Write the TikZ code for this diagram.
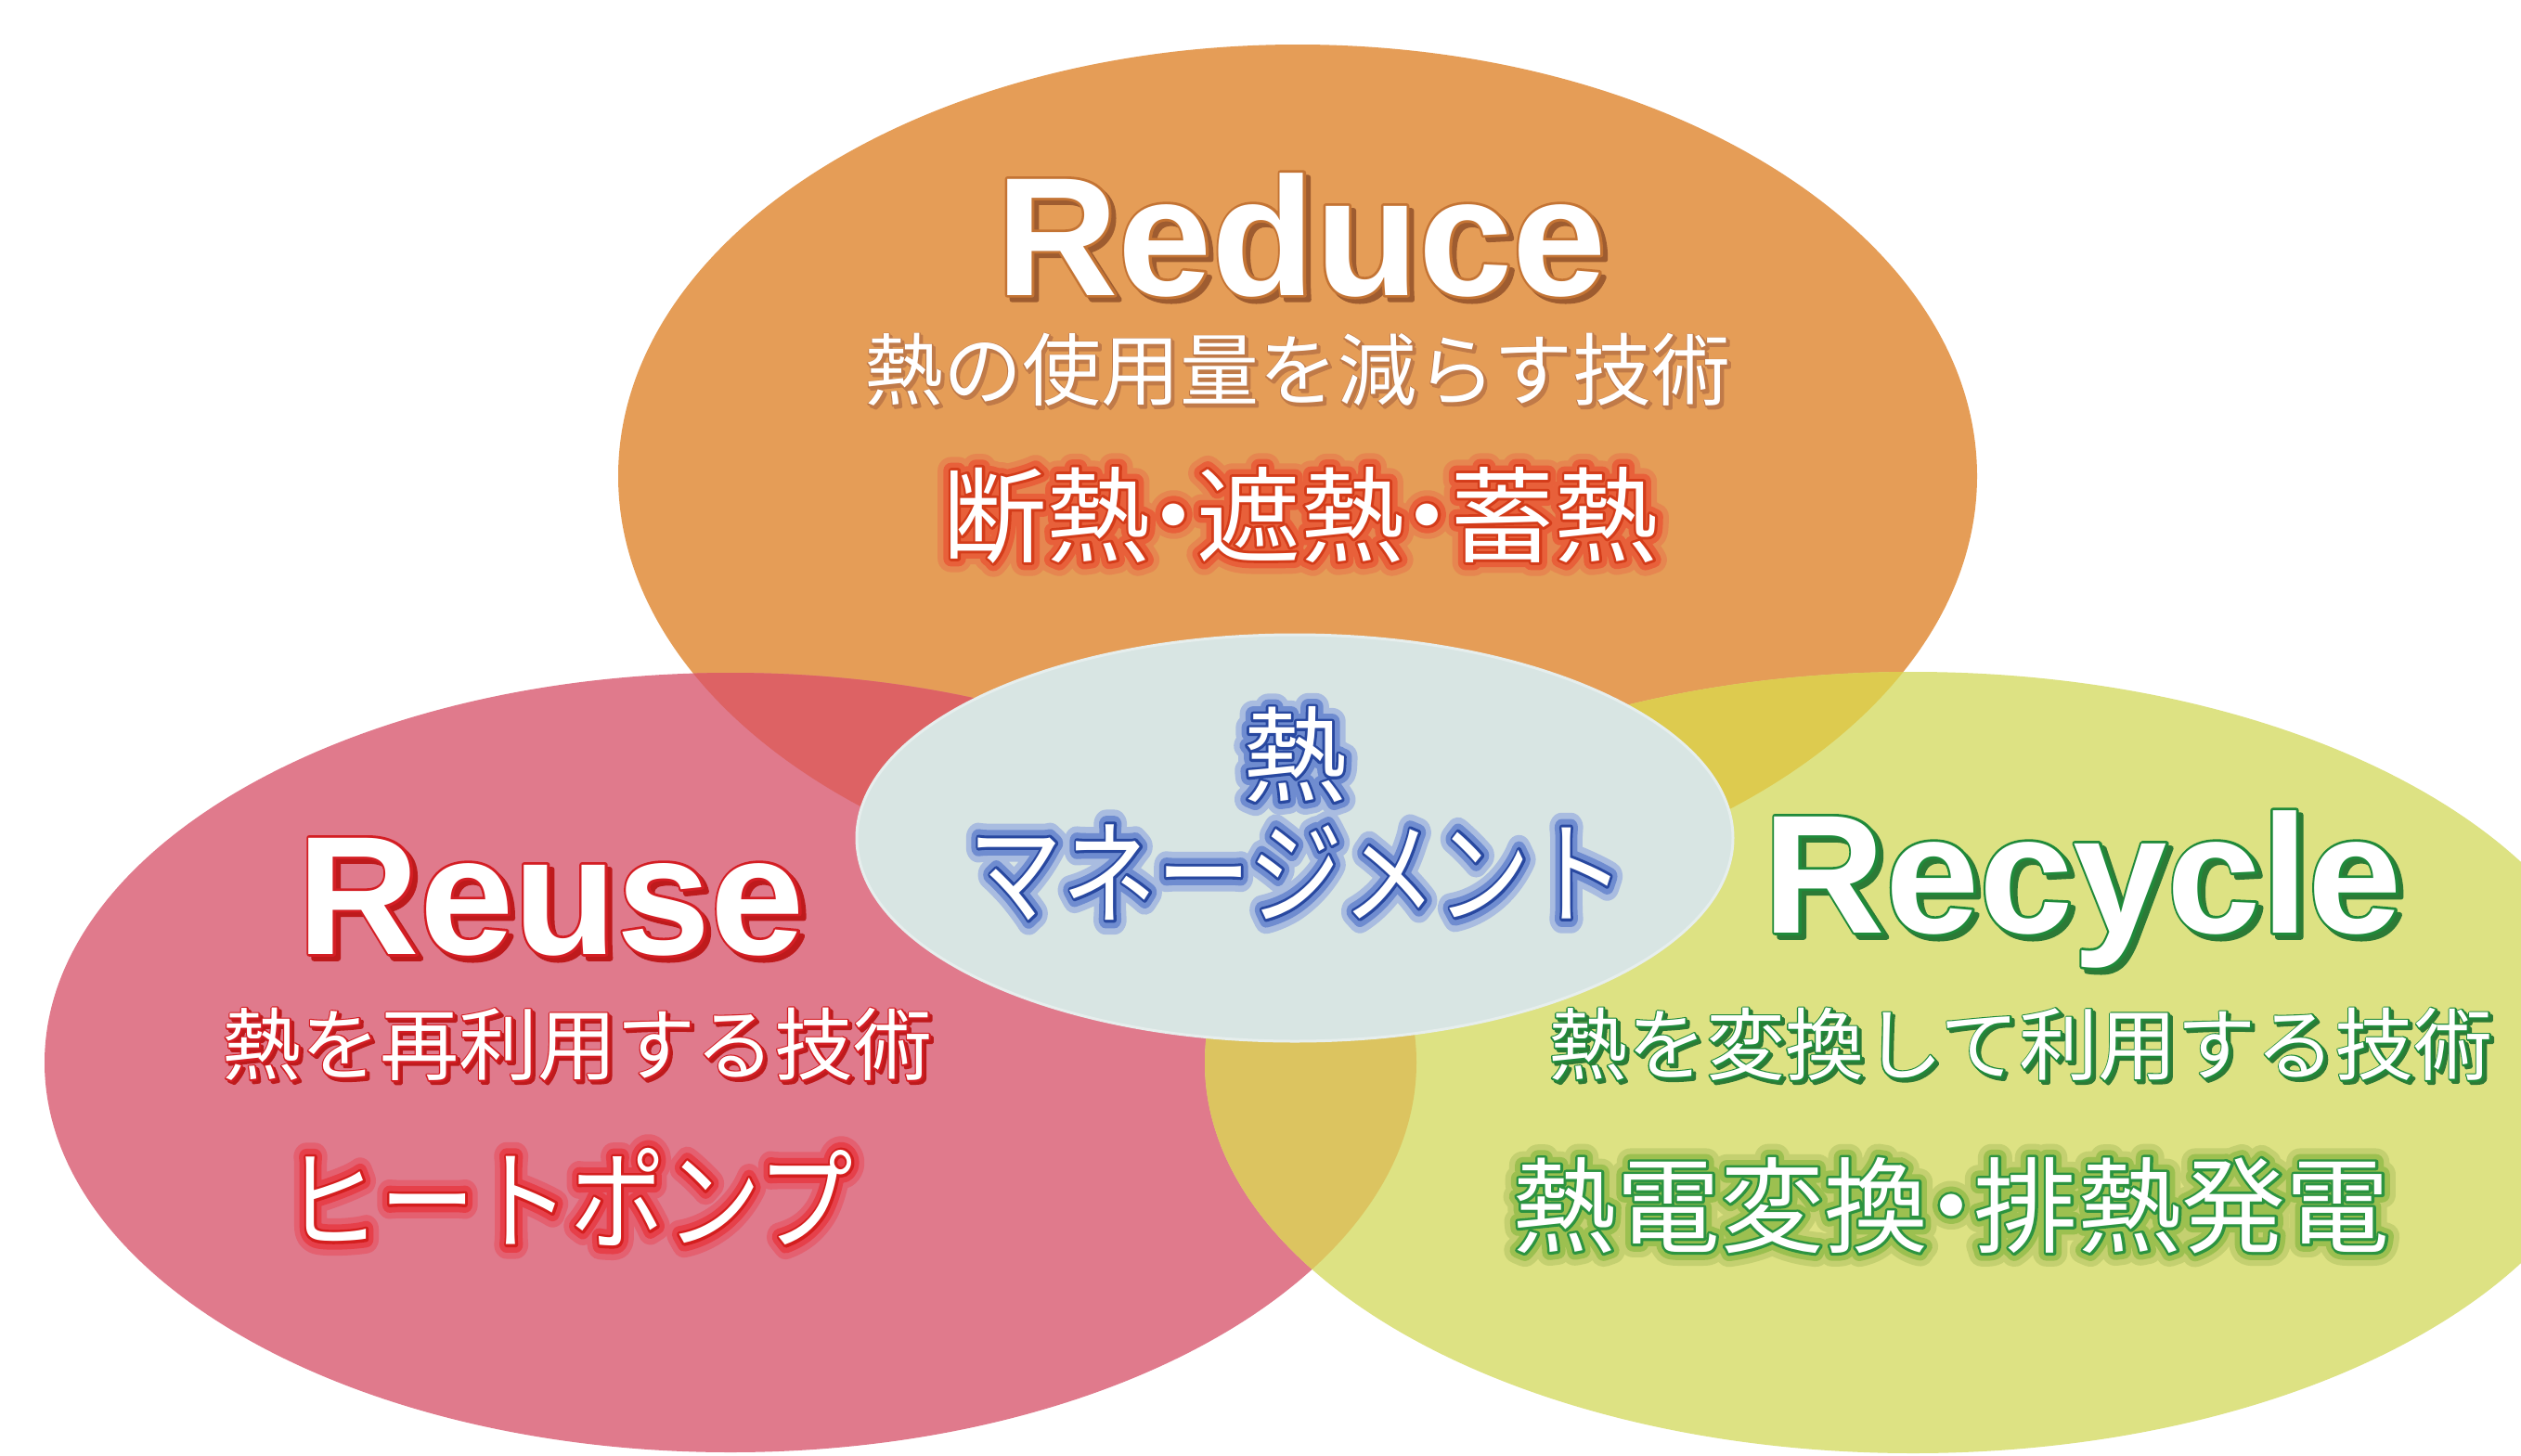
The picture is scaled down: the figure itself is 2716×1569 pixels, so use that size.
\documentclass[tikz,border=0pt]{standalone}
\usepackage{fontspec}
\setmainfont{Liberation Sans}
\newfontfamily\jpfont{Noto Sans CJK JP}
\definecolor{cOrange}{HTML}{E59D57}
\definecolor{cPink}{HTML}{E07A8C}
\definecolor{cYellow}{HTML}{DDE283}
\definecolor{cRedOv}{HTML}{DD6264}
\definecolor{cGoldOv}{HTML}{DDCB4F}
\definecolor{cPYOv}{HTML}{DCC460}
\definecolor{cCenter}{HTML}{D8E5E3}
% text effect colours
\definecolor{rdOl}{HTML}{C47434}
\definecolor{rdSh}{HTML}{9E5C30}
\definecolor{rdSubOl}{HTML}{C07A48}
\definecolor{rdGlowS}{HTML}{E68650}
\definecolor{rdGlowA}{HTML}{E8603A}
\definecolor{rdGlowB}{HTML}{D43C1A}
\definecolor{ctGlowS}{HTML}{A9BCE0}
\definecolor{ctGlowA}{HTML}{6F8CD0}
\definecolor{ctGlowB}{HTML}{2848A0}
\definecolor{ruOl}{HTML}{D41E24}
\definecolor{ruSh}{HTML}{BE1A1C}
\definecolor{ruGlowS}{HTML}{E46070}
\definecolor{ruGlowA}{HTML}{E6404A}
\definecolor{ruGlowB}{HTML}{D41E1E}
\definecolor{rcOl}{HTML}{1F8A3A}
\definecolor{rcSh}{HTML}{2C7A36}
\definecolor{rcGlowS}{HTML}{C4D070}
\definecolor{rcGlowA}{HTML}{9CC050}
\definecolor{rcGlowB}{HTML}{2C9440}

% #1 outline col, #2 outline amount, #3 shadow col, #4 shadow offset, #5 text
\newcommand{\shadowtxt}[5]{%
  \rlap{\kern#4\raisebox{-#4}{\addfontfeature{FakeBold=#2}\color{#3}#5}}%
  \rlap{\addfontfeature{FakeBold=#2}\color{#1}#5}%
  {\color{white}#5}}
% #1 soft glow col, #2 glow col, #3 outline col, #4 text
\newcommand{\glowtxt}[4]{%
  \rlap{\addfontfeature{FakeBold=26}\color{#1}#4}%
  \rlap{\addfontfeature{FakeBold=15}\color{#2}#4}%
  \rlap{\addfontfeature{FakeBold=5}\color{#3}#4}%
  {\color{white}#4}}
\newcommand{\jdot}{\kern-0.28em・\kern-0.28em}

\tikzset{
  txt/.style={inner sep=0pt, outer sep=0pt},
  titlefnt/.style={font=\fontsize{91}{91}\selectfont\bfseries},
  subfnt/.style={font=\jpfont\fontsize{42.5}{42.5}\selectfont},
  bigfnt/.style={font=\jpfont\fontsize{56}{56}\selectfont},
}

\begin{document}
\begin{tikzpicture}[x=0.5pt,y=-0.5pt, line join=round]
\path[use as bounding box] (0,0) rectangle (2716,1569);
\clip (0,0) rectangle (2716,1569);
\fill[white] (0,0) rectangle (2716,1569);

\def\pReduce{(1398,513) ellipse [x radius=732, y radius=465]}
\def\pReuse{(787,1145) ellipse [x radius=739, y radius=420]}
\def\pRecycle{(2061,1145) ellipse [x radius=763, y radius=421]}

\fill[cOrange] \pReduce;
\fill[cPink] \pReuse;
\fill[cYellow] \pRecycle;
\begin{scope}
  \clip \pReduce;
  \fill[cRedOv] \pReuse;
  \fill[cGoldOv] \pRecycle;
\end{scope}
\begin{scope}
  \clip \pReuse;
  \fill[cPYOv] \pRecycle;
\end{scope}
\fill[cCenter, draw=white!35!cCenter, line width=1.5] (1395,903) ellipse [x radius=472, y radius=219];

\begin{scope}[line join=round]
% Reduce
\node[txt, titlefnt, anchor=base] (reduceT) at (1402,318)
  {\shadowtxt{rdOl}{3}{rdSh}{2.5pt}{Reduce}};
\node[txt, subfnt] (reduceS) at (1398,400)
  {\shadowtxt{rdSubOl}{3}{rdSubOl}{1.2pt}{熱の使用量を減らす技術}};
\node[txt, bigfnt] (reduceB) at (1401,555)
  {\glowtxt{rdGlowS}{rdGlowA}{rdGlowB}{断熱\jdot 遮熱\jdot 蓄熱}};

% centre
\node[txt, bigfnt] (centerA) at (1395,813)
  {\glowtxt{ctGlowS}{ctGlowA}{ctGlowB}{熱}};
\node[txt, font=\jpfont\fontsize{61}{61}\selectfont] (centerB) at (1397,940)
  {\scalebox{0.83}[1]{\glowtxt{ctGlowS}{ctGlowA}{ctGlowB}{マネージメント}}};

% Reuse
\node[txt, titlefnt, anchor=base] (reuseT) at (594,1028)
  {\shadowtxt{ruOl}{3}{ruSh}{2.5pt}{Reuse}};
\node[txt, subfnt] (reuseS) at (622,1127)
  {\shadowtxt{ruOl}{4}{ruSh}{1.5pt}{熱を再利用する技術}};
\node[txt, font=\jpfont\fontsize{59}{59}\selectfont] (reuseB) at (613,1290)
  {\scalebox{0.87}[1]{\glowtxt{ruGlowS}{ruGlowA}{ruGlowB}{ヒートポンプ}}};

% Recycle
\node[txt, titlefnt, anchor=base] (recycleT) at (2244,1005)
  {\shadowtxt{rcOl}{3}{rcSh}{2.5pt}{Recycle}};
\node[txt, subfnt] (recycleS) at (2177,1127)
  {\shadowtxt{rcOl}{4}{rcSh}{1.5pt}{熱を変換して利用する技術}};
\node[txt, bigfnt] (recycleB) at (2102,1299)
  {\glowtxt{rcGlowS}{rcGlowA}{rcGlowB}{熱電変換\jdot 排熱発電}};
\end{scope}
\end{tikzpicture}
\end{document}
